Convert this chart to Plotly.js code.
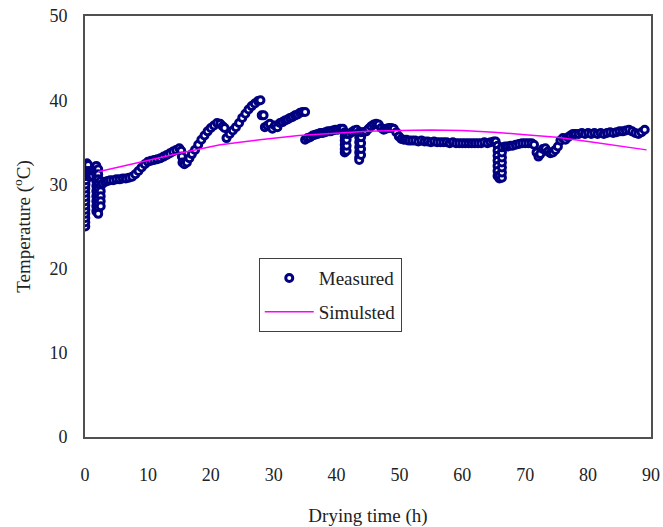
<!DOCTYPE html>
<html>
<head>
<meta charset="utf-8">
<script src="https://cdn.plot.ly/plotly-3.0.1.min.js"></script>
<style>html,body{margin:0;padding:0;background:#fff;}#chart{width:663px;height:527px;}</style>
</head>
<body>
<div id="chart"></div>
<script>
// Measured temperatures (drying time in h, temperature in °C)
const measuredTime = [
  0.05,0.05,0.05,0.05,0.05,0.05,0.05,0.05,0.05,0.05,0.08,0.12,0.15,0.18,0.2,0.22,
  0.3,0.3,0.3,0.5,0.5,0.5,0.8,0.8,1.0,1.2,1.4,1.6,
  1.8,1.8,1.8,1.8,1.8,1.8,1.8,1.8,1.8,1.8,
  2.1,2.1,2.1,2.1,2.1,2.1,2.1,2.1,2.1,2.1,
  2.5,2.5,2.5,2.5,2.5,2.5,
  2.8,3.2,3.6,4.0,4.5,5.0,5.5,6.0,6.5,7.0,7.5,8.0,8.5,9.0,9.5,10.0,10.5,11.0,11.5,12.0,12.5,13.0,13.5,14.0,14.5,15.0,
  15.3,15.4,15.5,15.8,16.2,16.6,17.0,17.5,18.0,18.5,19.0,19.5,20.0,20.5,21.0,21.5,21.9,22.2,
  22.5,23.0,23.5,24.0,24.5,25.0,25.5,26.0,26.5,27.0,27.5,27.9,
  28.1,28.4,
  28.6,29.0,29.4,29.8,30.2,30.6,31.0,31.4,31.8,32.2,32.6,33.0,33.4,33.8,34.2,34.6,35.0,
  35.0,35.4,35.8,36.2,36.6,37.0,37.4,37.8,38.2,38.6,39.0,39.4,39.8,40.2,40.6,41.0,
  41.3,41.3,41.3,41.3,41.3,41.3,41.6,41.6,41.6,41.6,
  42.0,42.4,42.8,43.2,
  43.6,43.6,43.6,43.6,43.6,43.6,43.6,43.9,43.9,43.9,43.9,43.9,
  44.3,44.7,45.1,45.5,45.9,46.3,46.7,47.1,47.5,47.9,48.3,48.7,49.1,49.5,49.9,50.3,50.7,51.1,51.5,52.0,52.5,53.0,53.5,54.0,54.5,
  55.0,55.5,56.0,56.5,57.0,57.5,58.0,58.5,59.0,59.5,60.0,60.5,61.0,61.5,62.0,62.5,63.0,63.5,64.0,64.5,65.0,65.3,
  65.6,65.6,65.6,65.6,65.6,65.6,65.6,65.9,65.9,
  66.3,66.3,66.3,66.3,66.3,66.3,66.3,
  66.8,67.2,67.6,68.0,68.5,69.0,69.5,70.0,70.5,71.0,71.4,71.8,72.1,72.4,72.8,73.2,73.6,74.0,74.4,74.8,75.2,75.6,76.0,76.4,76.8,77.2,77.6,
  78.0,78.5,79.0,79.5,80.0,80.5,81.0,81.5,82.0,82.5,83.0,83.5,84.0,84.5,85.0,85.5,86.0,86.5,87.0,87.5,88.0,88.5,89.0
];
const measuredTemp = [
  25.0,25.5,26.0,26.5,27.0,27.5,28.0,28.5,29.0,29.5,30.0,30.5,31.0,31.5,32.0,32.4,
  32.5,31.8,31.2,32.3,31.6,31.0,31.4,30.9,31.2,31.0,31.6,31.9,
  32.2,31.6,31.0,30.4,29.8,29.2,28.6,28.0,27.4,26.8,
  31.8,31.2,30.6,30.0,29.4,28.8,28.2,27.6,27.0,26.5,
  30.4,29.8,29.2,28.6,28.0,27.4,
  30.1,30.3,30.4,30.5,30.5,30.6,30.6,30.7,30.7,30.8,30.9,31.2,31.6,32.0,32.4,32.7,32.8,32.9,33.0,33.1,33.3,33.5,33.7,33.9,34.1,34.3,
  34.0,33.3,32.6,32.4,32.6,33.1,33.6,34.1,34.7,35.3,35.8,36.3,36.7,37.0,37.3,37.2,36.9,36.7,
  35.5,36.0,36.4,36.8,37.3,37.9,38.4,38.9,39.3,39.6,39.9,40.0,
  38.2,38.2,
  36.8,37.0,37.2,36.6,37.0,36.8,37.3,37.4,37.6,37.7,37.9,38.0,38.2,38.3,38.5,38.6,38.6,
  35.3,35.5,35.6,35.8,35.9,36.0,36.1,36.1,36.2,36.3,36.3,36.4,36.5,36.5,36.6,36.6,
  36.2,35.7,35.2,34.7,34.2,33.8,34.0,34.6,35.3,36.0,
  36.0,36.2,36.4,36.5,
  36.2,35.6,35.0,34.4,33.8,33.2,32.9,33.5,34.2,34.9,35.6,36.2,
  36.2,36.3,36.6,36.9,37.1,37.2,37.1,36.7,36.5,36.6,36.7,36.7,36.6,36.2,35.7,35.4,35.3,35.3,35.2,35.2,35.2,35.1,35.2,35.1,35.1,
  35.0,35.1,35.0,35.0,35.0,35.0,34.9,35.0,34.9,34.9,34.9,34.9,34.9,34.9,34.9,34.9,34.9,35.0,34.9,35.0,35.1,35.1,
  34.6,34.0,33.4,32.8,32.2,31.6,31.0,30.7,31.0,
  30.8,31.4,32.0,32.6,33.2,33.8,34.4,
  34.5,34.5,34.6,34.6,34.7,34.8,34.9,34.9,34.9,34.9,34.7,33.8,33.3,33.6,34.2,34.3,33.9,33.7,33.8,34.1,34.5,35.2,35.5,35.3,35.6,35.8,36.0,
  36.0,36.0,36.1,36.0,36.1,36.0,36.1,36.0,36.1,36.0,36.1,36.2,36.1,36.2,36.3,36.3,36.4,36.5,36.3,36.1,36.0,36.2,36.5
];
// Simulated temperatures
const simulatedTime = [2.1,5,9.5,15,21.5,27.8,34,40,45,50,55,60,65,70,75,80,85,89.3];
const simulatedTemp = [31.5,32.0,32.7,33.7,34.7,35.3,35.8,36.1,36.3,36.4,36.45,36.4,36.2,35.9,35.6,35.1,34.6,34.1];

const xTicks = [0,10,20,30,40,50,60,70,80,90];
const yTicks = [0,10,20,30,40,50];

const serif = '"Liberation Serif", "Times New Roman", serif';

const traces = [
  {
    x: measuredTime, y: measuredTemp, type: 'scatter', mode: 'markers', name: 'Measured',
    legendgroup: 'm',
    marker: {symbol: 'circle', size: 7, color: '#ffffff', line: {color: '#000080', width: 3}}
  },
  {
    x: simulatedTime, y: simulatedTemp, type: 'scatter', mode: 'lines', name: 'Simulsted',
    legendgroup: 's',
    line: {color: '#ff00ff', width: 1.5}
  }
];

const axisCommon = {
  showgrid: false, zeroline: false, showline: true, mirror: true,
  linecolor: '#505050', linewidth: 2, ticks: '',
  tickfont: {family: serif, size: 18, color: '#222'}
};

const layout = {
  width: 663, height: 527,
  margin: {l: 85, r: 12, t: 16, b: 90},
  paper_bgcolor: '#ffffff', plot_bgcolor: '#ffffff',
  showlegend: true,
  xaxis: Object.assign({}, axisCommon, {
    range: [0, 90], tickvals: xTicks, ticktext: xTicks.map(String),
    ticklabelstandoff: 20,
    title: {text: 'Drying time (h)', font: {family: serif, size: 19, color: '#222'}, standoff: 26}
  }),
  yaxis: Object.assign({}, axisCommon, {
    range: [0, 50], tickvals: yTicks, ticktext: yTicks.map(String),
    ticklabelstandoff: 12,
    title: {text: 'Temperature (<sup>o</sup>C)', font: {family: serif, size: 19, color: '#222'}, standoff: 14}
  }),
  legend: {
    x: 0.307, y: 0.425, xanchor: 'left', yanchor: 'top',
    bordercolor: '#404040', borderwidth: 1, bgcolor: '#ffffff',
    font: {family: serif, size: 19, color: '#222'},
    traceorder: 'grouped', tracegroupgap: 6, itemwidth: 49
  }
};

Plotly.newPlot('chart', traces, layout, {displayModeBar: false, staticPlot: true});
</script>
</body>
</html>
